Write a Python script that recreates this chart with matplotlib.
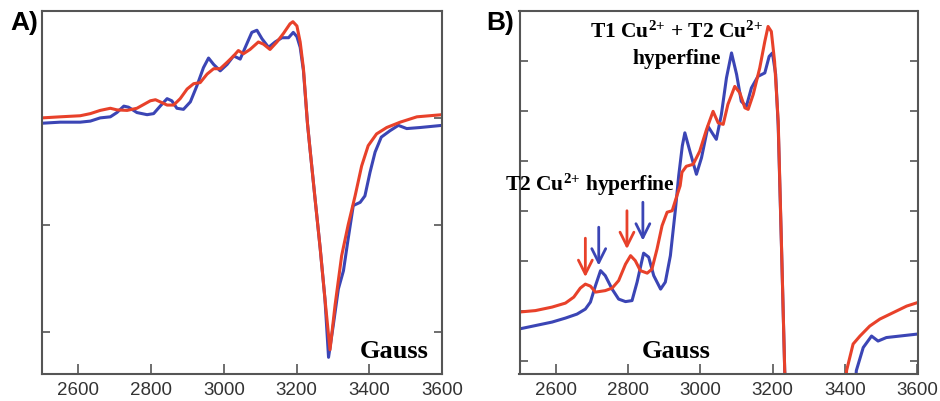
import matplotlib
matplotlib.use("Agg")
import matplotlib.pyplot as plt

plt.rcParams["mathtext.fontset"] = "custom"
plt.rcParams["mathtext.rm"] = "Liberation Serif:bold"
plt.rcParams["mathtext.bf"] = "Liberation Serif:bold"
plt.rcParams["mathtext.it"] = "Liberation Serif:bold"

# ---------------- data ----------------
# Panel A (full spectrum)
a_red_x = [2500, 2550, 2605, 2633, 2660, 2688, 2706, 2734, 2761, 2798, 2812, 2825, 2844,
           2862, 2880, 2899, 2917, 2935, 2954, 2972, 2990, 3009, 3027, 3040, 3054, 3072,
           3095, 3109, 3127, 3146, 3164, 3182, 3190, 3201, 3210, 3219, 3230, 3237, 3251,
           3265, 3278, 3292, 3306, 3324, 3342, 3361, 3379, 3397, 3420, 3448, 3485, 3531, 3600]
a_red_y = [2.00, 2.01, 2.02, 2.04, 2.07, 2.09, 2.075, 2.07, 2.09, 2.16, 2.17, 2.15, 2.12,
           2.12, 2.18, 2.27, 2.32, 2.33, 2.41, 2.46, 2.46, 2.52, 2.58, 2.63, 2.60, 2.64,
           2.71, 2.69, 2.64, 2.71, 2.79, 2.88, 2.90, 2.86, 2.71, 2.46, 1.95, 1.71, 1.24,
           0.78, 0.31, -0.17, 0.25, 0.71, 1.00, 1.27, 1.55, 1.74, 1.85, 1.91, 1.96, 2.01, 2.03]
a_blue_x = [2500, 2550, 2605, 2633, 2660, 2688, 2706, 2725, 2738, 2761, 2789, 2807, 2825,
            2844, 2857, 2871, 2889, 2908, 2926, 2944, 2958, 2972, 2990, 3009, 3027, 3045,
            3059, 3077, 3091, 3105, 3123, 3141, 3160, 3178, 3191, 3201, 3210, 3219, 3230,
            3237, 3251, 3265, 3278, 3288, 3301, 3315, 3329, 3342, 3356, 3375, 3388, 3402,
            3416, 3433, 3457, 3480, 3503, 3540, 3600]
a_blue_y = [1.95, 1.96, 1.96, 1.97, 2.00, 2.01, 2.05, 2.11, 2.10, 2.05, 2.03, 2.04, 2.11,
            2.18, 2.16, 2.09, 2.08, 2.15, 2.30, 2.47, 2.56, 2.50, 2.44, 2.50, 2.58, 2.55,
            2.66, 2.80, 2.82, 2.74, 2.66, 2.71, 2.75, 2.75, 2.80, 2.76, 2.66, 2.44, 1.95,
            1.71, 1.24, 0.78, 0.31, -0.24, 0.06, 0.40, 0.57, 0.87, 1.18, 1.21, 1.27, 1.49,
            1.68, 1.82, 1.88, 1.93, 1.90, 1.91, 1.93]

# Panel B (vertical zoom)
b_red_x = [2498, 2544, 2590, 2627, 2650, 2668, 2682, 2696, 2710, 2737, 2756, 2774, 2793,
           2807, 2820, 2834, 2853, 2866, 2880, 2894, 2908, 2922, 2935, 2944, 2949, 2961,
           2980, 2998, 3017, 3035, 3049, 3063, 3076, 3095, 3109, 3123, 3132, 3146, 3164,
           3178, 3187, 3196, 3205, 3215, 3224, 3233, 3245, 3290, 3350, 3395, 3404, 3422,
           3441, 3468, 3496, 3533, 3570, 3600]
b_red_y = [0.97, 1.00, 1.07, 1.15, 1.27, 1.45, 1.53, 1.49, 1.37, 1.40, 1.45, 1.60, 1.93,
           2.10, 2.00, 1.80, 1.75, 1.83, 2.23, 2.70, 2.97, 3.00, 3.30, 3.50, 3.77, 3.89,
           3.93, 4.19, 4.63, 4.99, 4.76, 4.73, 5.13, 5.49, 5.36, 5.06, 5.03, 5.33, 5.86,
           6.39, 6.69, 6.59, 5.99, 4.79, 2.33, -0.20, -2.0, -12.0, -6.0, -1.5, -0.20, 0.33,
           0.49, 0.69, 0.83, 0.96, 1.09, 1.16]
b_blue_x = [2498, 2544, 2590, 2627, 2659, 2682, 2696, 2710, 2724, 2737, 2756, 2774, 2793,
            2811, 2825, 2843, 2857, 2871, 2890, 2903, 2917, 2931, 2940, 2950, 2957, 2971,
            2989, 3003, 3021, 3035, 3044, 3058, 3072, 3086, 3100, 3113, 3127, 3141, 3159,
            3178, 3190, 3199, 3208, 3215, 3224, 3233, 3245, 3290, 3380, 3425, 3431, 3450,
            3473, 3491, 3514, 3551, 3600]
b_blue_y = [0.63, 0.70, 0.77, 0.85, 0.93, 1.03, 1.17, 1.50, 1.80, 1.70, 1.43, 1.23, 1.18,
            1.20, 1.57, 2.15, 2.07, 1.70, 1.43, 1.57, 2.10, 3.03, 3.70, 4.30, 4.56, 4.19,
            3.73, 4.06, 4.69, 4.53, 4.43, 4.93, 5.66, 6.16, 5.73, 5.19, 5.09, 5.46, 5.69,
            5.76, 6.09, 6.16, 5.73, 4.70, 2.30, -0.20, -2.0, -13.0, -6.0, -0.8, -0.20, 0.26,
            0.49, 0.39, 0.46, 0.49, 0.53]

x_ticks = [2600, 2800, 3000, 3200, 3400, 3600]
a_yticks = [0, 1, 2, 3]
b_yticks = [0, 1, 2, 3, 4, 5, 6, 7]

# arrows in panel B: (x, y_start, y_end)
red_arrows = [(2682, 2.45, 1.67), (2797, 3.00, 2.23)]
blue_arrows = [(2719, 2.67, 1.90), (2841, 3.17, 2.40)]

RED = "#e8412a"
BLUE = "#3b45b5"
FRAME = "#555555"

fig = plt.figure(figsize=(9.4, 4.02), dpi=100)
axA = fig.add_axes([42 / 940, 27 / 402, 400 / 940, 363 / 402])
axB = fig.add_axes([519.5 / 940, 27 / 402, 398 / 940, 363 / 402])

serif = ["Liberation Serif", "DejaVu Serif"]
sans = ["Liberation Sans", "DejaVu Sans"]

for ax in (axA, axB):
    ax.set_xlim(2500, 3600)
    ax.set_xticks(x_ticks)
    ax.tick_params(axis="x", direction="in", length=7, width=1.2, color=FRAME,
                   labelsize=13.5, labelcolor="#333333", pad=5)
    ax.tick_params(axis="y", direction="in", length=6, width=1.2, color=FRAME,
                   left=True, right=True, labelleft=False)
    for lbl in ax.get_xticklabels():
        lbl.set_family(sans)
    for s in ax.spines.values():
        s.set_color(FRAME)
        s.set_linewidth(1.5)

line_kw = dict(lw=2.2, solid_joinstyle="round", solid_capstyle="round")
axA.plot(a_blue_x, a_blue_y, color=BLUE, **line_kw)
axA.plot(a_red_x, a_red_y, color=RED, **line_kw)
axA.set_ylim(-0.396, 3.0)
axA.set_yticks(a_yticks)

axB.plot(b_blue_x, b_blue_y, color=BLUE, **line_kw)
axB.plot(b_red_x, b_red_y, color=RED, **line_kw)
axB.set_ylim(-0.27, 7.0)
axB.set_yticks(b_yticks)

astyle = "->,head_length=0.5,head_width=0.25"
for (x, y0, y1) in red_arrows:
    axB.annotate("", xy=(x, y1), xytext=(x, y0),
                 arrowprops=dict(arrowstyle=astyle, color=RED, lw=2.0, mutation_scale=20,
                                 shrinkA=0, shrinkB=0))
for (x, y0, y1) in blue_arrows:
    axB.annotate("", xy=(x, y1), xytext=(x, y0),
                 arrowprops=dict(arrowstyle=astyle, color=BLUE, lw=2.0, mutation_scale=20,
                                 shrinkA=0, shrinkB=0))

axA.text(3468, -0.18, "Gauss", family=serif, weight="bold", fontsize=19, ha="center", va="center")
axB.text(2932, 0.2, "Gauss", family=serif, weight="bold", fontsize=19, ha="center", va="center")

sup = "$^{\\mathbf{2}{\\mathbf{+}}}$"
axB.text(2695, 3.53, "T2 Cu" + sup + " hyperfine", family=serif, weight="bold",
         fontsize=15.5, ha="center", va="center", clip_on=False)
axB.text(2935, 6.6, "T1 Cu" + sup + " + T2 Cu" + sup, family=serif, weight="bold",
         fontsize=15.5, ha="center", va="center")
axB.text(2935, 6.05, "hyperfine", family=serif, weight="bold",
         fontsize=15.5, ha="center", va="center")

fig.text(10 / 940, 1 - 23 / 402, "A)", family=sans, weight="bold", fontsize=19, ha="left", va="center")
fig.text(486 / 940, 1 - 23 / 402, "B)", family=sans, weight="bold", fontsize=19, ha="left", va="center")

fig.savefig("out.png", dpi=100, facecolor="white")
